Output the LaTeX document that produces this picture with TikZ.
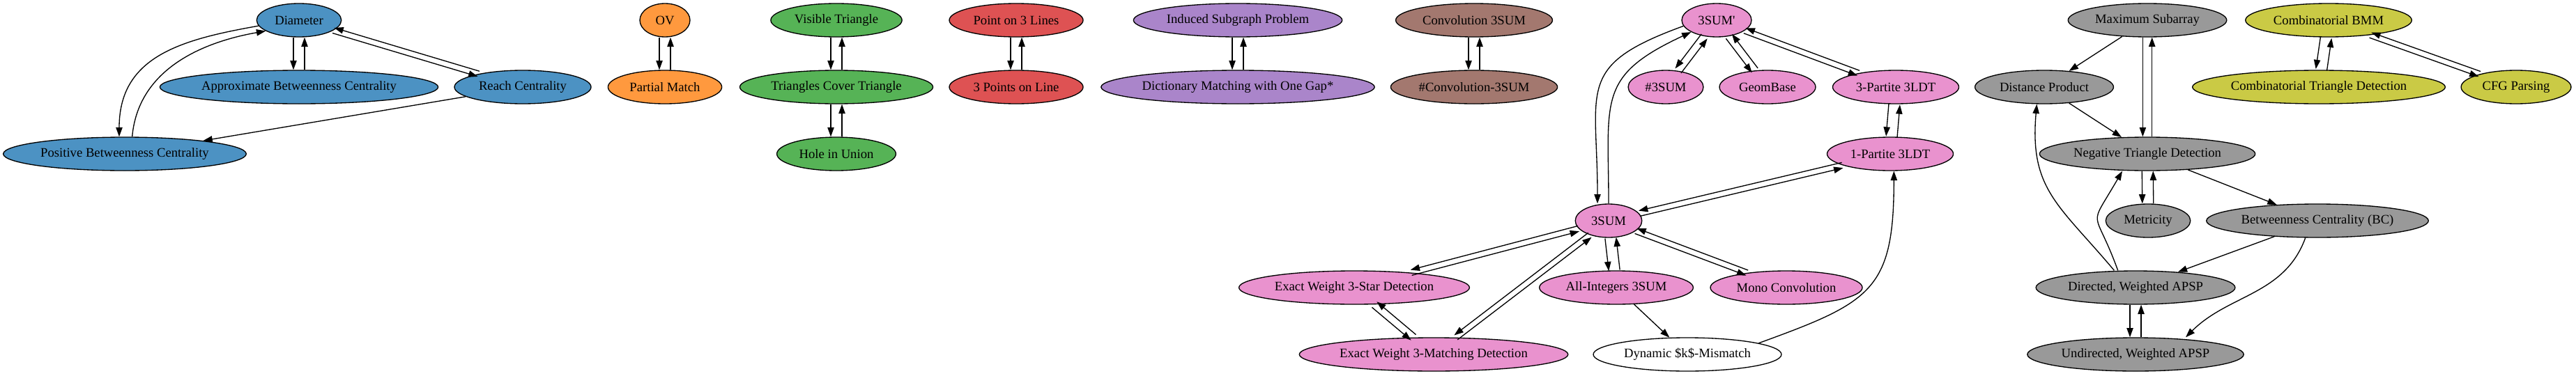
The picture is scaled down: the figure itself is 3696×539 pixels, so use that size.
\documentclass[tikz,border=0pt]{standalone}
\usepackage{fontspec}
\setmainfont{Liberation Serif}
\usetikzlibrary{arrows.meta,shapes.geometric,calc}
\definecolor{tabblue}{HTML}{4C92C3}
\definecolor{taborange}{HTML}{FF993E}
\definecolor{tabgreen}{HTML}{56B356}
\definecolor{tabred}{HTML}{DE5253}
\definecolor{tabpurple}{HTML}{AA85CA}
\definecolor{tabbrown}{HTML}{A3786F}
\definecolor{tabpink}{HTML}{E992CE}
\definecolor{tabgray}{HTML}{999999}
\definecolor{tabolive}{HTML}{CACA45}
\newbox\problabel

\begin{document}
\begin{tikzpicture}[x=0.75pt,y=0.75pt,
 prob/.style={ellipse,draw,line width=1pt,fill=#1,minimum width=54pt,minimum height=36pt,
  inner xsep=7.92pt,inner ysep=3.96pt,font=\fontsize{14pt}{16pt}\selectfont,
  execute at begin node={\setbox\problabel=\hbox\bgroup},
  execute at end node={\egroup\hbox to .933\wd\problabel{\hss\box\problabel\hss}}},
 prob/.default=white,
 reduct/.style={-{Triangle[length=10pt,width=7pt]},line width=1pt},
 tw/.style n args={3}{transform canvas={shift={($(#1)!#3!-90:(#2)-(#1)$)}}}]
\useasboundingbox (0,0) rectangle (3696,-539);

% distance / centrality
\node[prob=tabblue] (diam) at (429,-29) {Diameter};
\node[prob=tabblue] (abc) at (429,-125) {Approximate Betweenness Centrality};
\node[prob=tabblue] (reach) at (750,-125) {Reach Centrality};
\node[prob=tabblue] (pbc) at (179,-221) {Positive Betweenness Centrality};
% OV
\node[prob=taborange] (ov) at (954,-29) {OV};
\node[prob=taborange] (pm) at (954,-125) {Partial Match};
% geometry
\node[prob=tabgreen] (vt) at (1200,-29) {Visible Triangle};
\node[prob=tabgreen] (tct) at (1200,-125) {Triangles Cover Triangle};
\node[prob=tabgreen] (hiu) at (1200,-221) {Hole in Union};
\node[prob=tabred] (ponl) at (1458,-29) {Point on 3 Lines};
\node[prob=tabred] (tpol) at (1458,-125) {3 Points on Line};
% strings
\node[prob=tabpurple] (isp) at (1776,-29) {Induced Subgraph Problem};
\node[prob=tabpurple] (dmg) at (1776,-125) {Dictionary Matching with One Gap*};
\node[prob=tabbrown] (conv) at (2115,-29) {Convolution 3SUM};
\node[prob=tabbrown] (sconv) at (2115,-125) {\#Convolution-3SUM};
% 3SUM
\node[prob=tabpink] (tsumq) at (2463,-29) {3SUM\textquotesingle};
\node[prob=tabpink] (ssum) at (2390,-125) {\#3SUM};
\node[prob=tabpink] (geom) at (2536,-125) {GeomBase};
\node[prob=tabpink] (tpart) at (2720,-125) {3-Partite 3LDT};
\node[prob=tabpink] (opart) at (2712,-221) {1-Partite 3LDT};
\node[prob=tabpink] (tsum) at (2308,-317) {3SUM};
\node[prob=tabpink] (star) at (1943,-413) {Exact Weight 3-Star Detection};
\node[prob=tabpink] (allint) at (2319,-413) {All-Integers 3SUM};
\node[prob=tabpink] (mono) at (2563,-413) {Mono Convolution};
\node[prob=tabpink] (match) at (2057,-509) {Exact Weight 3-Matching Detection};
\node[prob] (dyn) at (2421,-509) {Dynamic \$k\$-Mismatch};
% APSP
\node[prob=tabgray] (maxs) at (3081,-29) {Maximum Subarray};
\node[prob=tabgray] (dprod) at (2933,-125) {Distance Product};
\node[prob=tabgray] (ntd) at (3081,-221) {Negative Triangle Detection};
\node[prob=tabgray] (metr) at (3082,-317) {Metricity};
\node[prob=tabgray] (bc) at (3325,-317) {Betweenness Centrality (BC)};
\node[prob=tabgray] (dapsp) at (3064,-413) {Directed, Weighted APSP};
\node[prob=tabgray] (uapsp) at (3064,-509) {Undirected, Weighted APSP};
% BMM
\node[prob=tabolive] (cbmm) at (3341,-29) {Combinatorial BMM};
\node[prob=tabolive] (ctd) at (3327,-125) {Combinatorial Triangle Detection};
\node[prob=tabolive] (cfg) at (3610,-125) {CFG Parsing};

% reductions
\draw[reduct,tw={diam}{abc}{6pt}] (diam) -- (abc);
\draw[reduct,tw={abc}{diam}{6pt}] (abc) -- (diam);
\draw[reduct,tw={diam}{reach}{3pt}] (diam) -- (reach);
\draw[reduct,tw={reach}{diam}{3pt}] (reach) -- (diam);
\draw[reduct] (diam.188) to[out=190,in=90,looseness=1.15] ([xshift=-6pt]pbc.north);
\draw[reduct] ([xshift=8pt]pbc.north) to[out=85,in=190] (diam.198);
\draw[reduct] (reach) -- (pbc);

\draw[reduct,tw={ov}{pm}{6pt}] (ov) -- (pm);
\draw[reduct,tw={pm}{ov}{6pt}] (pm) -- (ov);
\draw[reduct,tw={vt}{tct}{6pt}] (vt) -- (tct);
\draw[reduct,tw={tct}{vt}{6pt}] (tct) -- (vt);
\draw[reduct,tw={tct}{hiu}{6pt}] (tct) -- (hiu);
\draw[reduct,tw={hiu}{tct}{6pt}] (hiu) -- (tct);
\draw[reduct,tw={ponl}{tpol}{6pt}] (ponl) -- (tpol);
\draw[reduct,tw={tpol}{ponl}{6pt}] (tpol) -- (ponl);
\draw[reduct,tw={isp}{dmg}{6pt}] (isp) -- (dmg);
\draw[reduct,tw={dmg}{isp}{6pt}] (dmg) -- (isp);
\draw[reduct,tw={conv}{sconv}{6pt}] (conv) -- (sconv);
\draw[reduct,tw={sconv}{conv}{6pt}] (sconv) -- (conv);

\draw[reduct,tw={tsumq}{ssum}{4pt}] (tsumq) -- (ssum);
\draw[reduct,tw={ssum}{tsumq}{4pt}] (ssum) -- (tsumq);
\draw[reduct,tw={tsumq}{geom}{4pt}] (tsumq) -- (geom);
\draw[reduct,tw={geom}{tsumq}{4pt}] (geom) -- (tsumq);
\draw[reduct,tw={tsumq}{tpart}{3pt}] (tsumq) -- (tpart);
\draw[reduct,tw={tpart}{tsumq}{3pt}] (tpart) -- (tsumq);
\draw[reduct,tw={tpart}{opart}{6pt}] (tpart) -- (opart);
\draw[reduct,tw={opart}{tpart}{6pt}] (opart) -- (tpart);
\draw[reduct,tw={opart}{tsum}{3pt}] (opart) -- (tsum);
\draw[reduct,tw={tsum}{opart}{3pt}] (tsum) -- (opart);
\draw[reduct] (tsumq.190) to[out=200,in=90,looseness=1.5] ([xshift=-12pt]tsum.north);
\draw[reduct] (tsum.north) to[out=90,in=205,looseness=1.4] (tsumq.205);
\draw[reduct,tw={tsum}{star}{3pt}] (tsum) -- (star);
\draw[reduct,tw={star}{tsum}{3pt}] (star) -- (tsum);
\draw[reduct,tw={tsum}{match}{3pt}] (tsum) -- (match);
\draw[reduct,tw={match}{tsum}{3pt}] (match) -- (tsum);
\draw[reduct,tw={tsum}{allint}{6pt}] (tsum) -- (allint);
\draw[reduct,tw={allint}{tsum}{6pt}] (allint) -- (tsum);
\draw[reduct,tw={tsum}{mono}{3pt}] (tsum) -- (mono);
\draw[reduct,tw={mono}{tsum}{3pt}] (mono) -- (tsum);
\draw[reduct,tw={star}{match}{4pt}] (star) -- (match);
\draw[reduct,tw={match}{star}{4pt}] (match) -- (star);
\draw[reduct] (allint) -- (dyn);
\draw[reduct] (dyn.9) to[out=20,in=270,looseness=1.4] ([xshift=4pt]opart.south);

\draw[reduct] (maxs) -- (dprod);
\draw[reduct,tw={maxs}{ntd}{5pt}] (maxs) -- (ntd);
\draw[reduct,tw={ntd}{maxs}{5pt}] (ntd) -- (maxs);
\draw[reduct] (dprod) -- (ntd);
\draw[reduct,tw={ntd}{metr}{6pt}] (ntd) -- (metr);
\draw[reduct,tw={metr}{ntd}{6pt}] (metr) -- (ntd);
\draw[reduct] (ntd) -- (bc);
\draw[reduct] (bc) -- (dapsp);
\draw[reduct] ([xshift=-13pt]bc.south) to[out=250,in=45] ([xshift=54pt]uapsp.north);
\draw[reduct] ([xshift=-23pt]dapsp.north) to[out=130,in=265,looseness=1.2] ([xshift=-8pt]dprod.south);
\draw[reduct] ([xshift=-19pt]dapsp.north) to[out=110,in=240,looseness=1.8] ([xshift=-27pt]ntd.south);
\draw[reduct,tw={dapsp}{uapsp}{6pt}] (dapsp) -- (uapsp);
\draw[reduct,tw={uapsp}{dapsp}{6pt}] (uapsp) -- (dapsp);

\draw[reduct,tw={cbmm}{ctd}{6pt}] (cbmm) -- (ctd);
\draw[reduct,tw={ctd}{cbmm}{6pt}] (ctd) -- (cbmm);
\draw[reduct,tw={cbmm}{cfg}{3pt}] (cbmm) -- (cfg);
\draw[reduct,tw={cfg}{cbmm}{3pt}] (cfg) -- (cbmm);
\end{tikzpicture}
\end{document}
